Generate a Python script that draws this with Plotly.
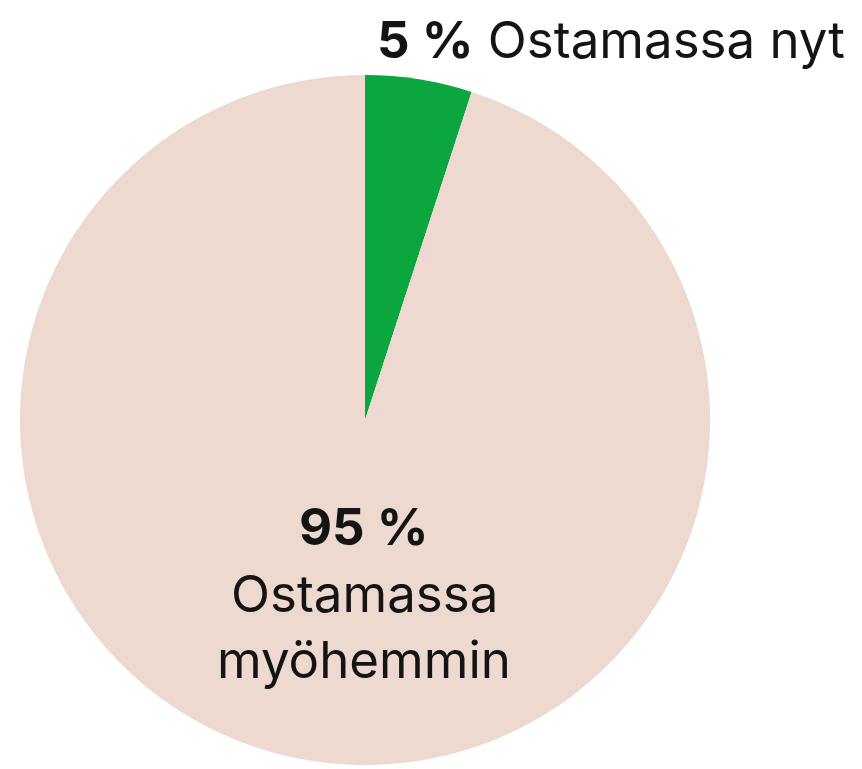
import plotly.graph_objects as go

labels = ["Ostamassa nyt", "Ostamassa myöhemmin"]
values = [5, 95]
colors = ["#0ba640", "#edd9d0"]

W, H = 862, 769

fig = go.Figure()
fig.add_trace(go.Pie(
    labels=labels,
    values=values,
    sort=False,
    direction="clockwise",
    rotation=0,
    marker=dict(colors=colors, line=dict(width=0)),
    textinfo="none",
    hoverinfo="label+percent",
    showlegend=False,
    domain=dict(x=[20 / W, 710 / W], y=[1 - 765 / H, 1 - 75 / H]),
))

font_family = "Inter, Roboto, Arial, sans-serif"

fig.add_annotation(
    x=847 / W, y=1 - 39 / H, xref="paper", yref="paper",
    xanchor="right", yanchor="middle", showarrow=False,
    text=f"<b>{values[0]} %</b> {labels[0]}",
    font=dict(family=font_family, size=51, color="#141414"),
)

mid_lines = [f"<b>{values[1]} %</b>", "Ostamassa", "myöhemmin"]
mid_y = [526, 593, 659]
for t, yy in zip(mid_lines, mid_y):
    fig.add_annotation(
        x=364 / W, y=1 - yy / H, xref="paper", yref="paper",
        xanchor="center", yanchor="middle", showarrow=False,
        text=t,
        font=dict(family=font_family, size=51, color="#141414"),
    )

fig.update_layout(
    width=W, height=H,
    margin=dict(l=0, r=0, t=0, b=0),
    paper_bgcolor="white",
    plot_bgcolor="white",
)

fig.write_html("out.html")
